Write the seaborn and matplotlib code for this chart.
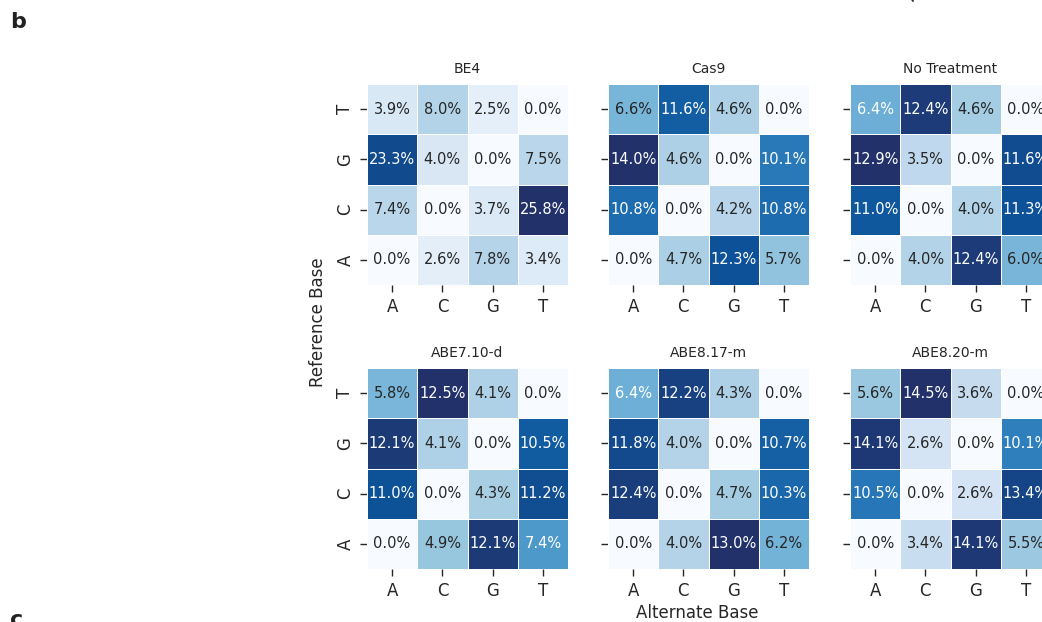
import numpy as np
import pandas as pd
import matplotlib
matplotlib.use("Agg")
import matplotlib.pyplot as plt
from matplotlib.colors import LinearSegmentedColormap
import seaborn as sns

# Substitution frequencies (%), rows = reference base, columns = alternate base
bases = ["A", "C", "G", "T"]
titles = ["BE4", "Cas9", "No Treatment", "ABE7.10-d", "ABE8.17-m", "ABE8.20-m"]

# each list is one reference-base row: [to A, to C, to G, to T]
be4_A = [0.0, 2.6, 7.8, 3.4]
be4_C = [7.4, 0.0, 3.7, 25.8]
be4_G = [23.3, 4.0, 0.0, 7.5]
be4_T = [3.9, 8.0, 2.5, 0.0]

cas9_A = [0.0, 4.7, 12.3, 5.7]
cas9_C = [10.8, 0.0, 4.2, 10.8]
cas9_G = [14.0, 4.6, 0.0, 10.1]
cas9_T = [6.6, 11.6, 4.6, 0.0]

nt_A = [0.0, 4.0, 12.4, 6.0]
nt_C = [11.0, 0.0, 4.0, 11.3]
nt_G = [12.9, 3.5, 0.0, 11.6]
nt_T = [6.4, 12.4, 4.6, 0.0]

abe710_A = [0.0, 4.9, 12.1, 7.4]
abe710_C = [11.0, 0.0, 4.3, 11.2]
abe710_G = [12.1, 4.1, 0.0, 10.5]
abe710_T = [5.8, 12.5, 4.1, 0.0]

abe817_A = [0.0, 4.0, 13.0, 6.2]
abe817_C = [12.4, 0.0, 4.7, 10.3]
abe817_G = [11.8, 4.0, 0.0, 10.7]
abe817_T = [6.4, 12.2, 4.3, 0.0]

abe820_A = [0.0, 3.4, 14.1, 5.5]
abe820_C = [10.5, 0.0, 2.6, 13.4]
abe820_G = [14.1, 2.6, 0.0, 10.1]
abe820_T = [5.6, 14.5, 3.6, 0.0]

rows = [
    (be4_A, be4_C, be4_G, be4_T),
    (cas9_A, cas9_C, cas9_G, cas9_T),
    (nt_A, nt_C, nt_G, nt_T),
    (abe710_A, abe710_C, abe710_G, abe710_T),
    (abe817_A, abe817_C, abe817_G, abe817_T),
    (abe820_A, abe820_C, abe820_G, abe820_T),
]

sns.set_style("ticks")
plt.rcParams["font.family"] = ["DejaVu Sans"]
plt.rcParams["xtick.color"] = "#262626"
plt.rcParams["ytick.color"] = "#262626"

cmap = LinearSegmentedColormap.from_list(
    "blues_navy",
    ["#f7fbff", "#deebf7", "#c6dbef", "#9ecae1", "#6baed6",
     "#4292c6", "#2171b5", "#0c539a", "#22316a"])

W, H = 1042, 622
fig = plt.figure(figsize=(W / 100, H / 100), dpi=100)

col_x = [367, 608, 850]
row_bottom = [285, 569]
size = 201

for i, (title, r) in enumerate(zip(titles, rows)):
    rr, cc = divmod(i, 3)
    x0 = col_x[cc]
    yb = row_bottom[rr]
    ax = fig.add_axes([x0 / W, 1 - yb / H, size / W, size / H])
    df = pd.DataFrame(list(r), index=bases, columns=bases) / 100.0
    df = df.iloc[::-1]  # A at the bottom, T on top
    sns.heatmap(df, ax=ax, cmap=cmap, vmin=0, vmax=df.values.max(),
                annot=True, fmt=".1%", cbar=False, square=False,
                linewidths=0.4, linecolor="white",
                annot_kws={"fontsize": 10.5, "family": "DejaVu Sans"})
    ax.set_title(title, fontsize=10, pad=8, color="#262626")
    ax.set_xlabel("")
    ax.set_ylabel("")
    ax.tick_params(axis="both", length=5, width=1, labelsize=12, pad=4,
                   colors="#262626")
    ax.set_xticklabels(ax.get_xticklabels(), rotation=0)
    if cc == 0:
        ax.set_yticklabels(ax.get_yticklabels(), rotation=90, va="center")
    else:
        ax.set_yticklabels([])

fig.text(318 / W, 1 - 322 / H, "Reference Base", rotation=90,
         ha="center", va="center", fontsize=12, color="#262626")
fig.text(697 / W, 1 - 613 / H, "Alternate Base",
         ha="center", va="center", fontsize=12, color="#262626")

fig.text(10 / W, 1 - 22 / H, "b", fontsize=16, fontweight="bold",
         ha="left", va="center", color="#222222")
fig.text(10 / W, 1 - 620 / H, "c", fontsize=16, fontweight="bold",
         ha="left", va="center", color="#222222")
fig.text(917 / W, 1 - 4 / H, "Alternate", rotation=60, fontsize=12,
         ha="left", va="bottom", color="#262626", rotation_mode="anchor")

fig.savefig("out.png", dpi=100)
